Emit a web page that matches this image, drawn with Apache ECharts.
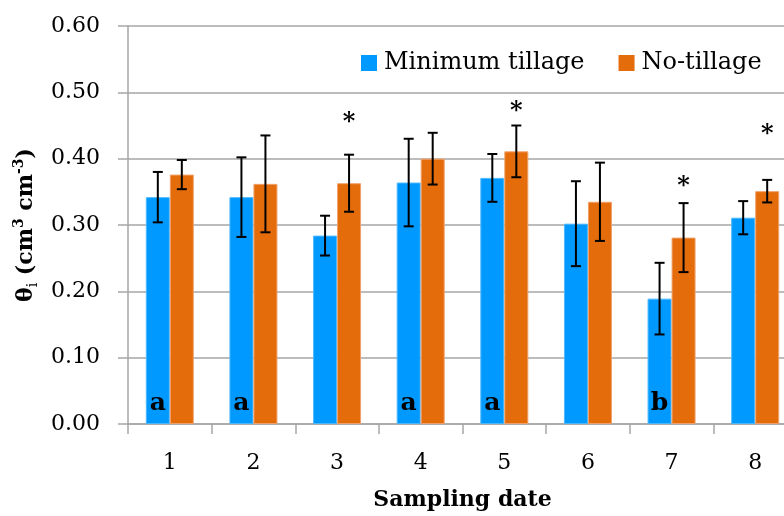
<!DOCTYPE html>
<html>
<head>
<meta charset="utf-8">
<script src="https://cdn.jsdelivr.net/npm/echarts@6/dist/echarts.min.js"></script>
<style>
  html, body { margin: 0; padding: 0; background: #fff; }
  #chart { width: 784px; height: 516px; }
</style>
</head>
<body>
<div id="chart"></div>
<script>
// Sampling dates on the category axis
const dates = ['1', '2', '3', '4', '5', '6', '7', '8'];

// Mean soil water content and its error (± half-range of the bar)
const minTillage   = [0.342, 0.342, 0.284, 0.364, 0.371, 0.302, 0.189, 0.311];
const minTillageSD = [0.038, 0.060, 0.030, 0.066, 0.036, 0.064, 0.054, 0.025];
const noTillage    = [0.376, 0.362, 0.363, 0.400, 0.411, 0.335, 0.281, 0.351];
const noTillageSD  = [0.022, 0.073, 0.043, 0.039, 0.039, 0.059, 0.052, 0.017];

// Significance marks: letters at the foot of the minimum-tillage bars,
// asterisks above the no-tillage bars (value = height of the mark)
const letterMarks   = ['a', 'a', '', 'a', 'a', '', 'b', ''];
const asteriskLevel = [null, null, 0.461, null, 0.478, null, 0.365, 0.443];

// Y axis tick settings
const yMin = 0, yMax = 0.6, yStep = 0.1;

const FONT = 'DejaVu Serif';
const BAR_W = 24;
const BLUE = '#0099FF';
const ORANGE = '#E46C0A';

const chart = echarts.init(document.getElementById('chart'), null, { renderer: 'canvas' });

function errorSeries(name, means, sds, offset) {
  return {
    type: 'custom',
    name: name,
    z: 5,
    data: means.map((m, i) => [i, m - sds[i], m + sds[i]]),
    renderItem: function (params, api) {
      const lo = api.coord([api.value(0), api.value(1)]);
      const hi = api.coord([api.value(0), api.value(2)]);
      const x = hi[0] + offset;
      const cap = 5;
      const style = { stroke: '#000', lineWidth: 2 };
      return {
        type: 'group',
        children: [
          { type: 'line', shape: { x1: x, y1: hi[1], x2: x, y2: lo[1] }, style: style },
          { type: 'line', shape: { x1: x - cap, y1: hi[1], x2: x + cap, y2: hi[1] }, style: style },
          { type: 'line', shape: { x1: x - cap, y1: lo[1], x2: x + cap, y2: lo[1] }, style: style }
        ]
      };
    }
  };
}

const option = {
  backgroundColor: '#fff',
  animation: false,
  textStyle: { fontFamily: FONT, color: '#000' },
  grid: { left: 128, top: 26, width: 669, height: 398, containLabel: false, outerBoundsMode: 'none' },
  legend: {
    data: ['Minimum tillage', 'No-tillage'],
    left: 356,
    top: 46,
    icon: 'rect',
    itemWidth: 16,
    itemHeight: 16,
    itemGap: 34,
    itemStyle: { borderWidth: 0 },
    textStyle: { fontFamily: FONT, fontSize: 24, color: '#000', lineHeight: 24, padding: [0, 0, 0, 2] }
  },
  xAxis: {
    type: 'category',
    data: dates,
    name: 'Sampling date',
    nameLocation: 'middle',
    nameGap: 65,
    nameTextStyle: { fontFamily: FONT, fontSize: 22, fontWeight: 'bold', color: '#000' },
    axisLine: { lineStyle: { color: '#a6a6a6', width: 1.5 } },
    axisTick: { show: true, length: 10, lineStyle: { color: '#a6a6a6', width: 1.5 } },
    axisLabel: { fontFamily: FONT, fontSize: 22, color: '#000', margin: 28 }
  },
  yAxis: {
    type: 'value',
    min: yMin,
    max: yMax,
    interval: yStep,
    name: '{t|θ}{sub|i}{t| (cm}{sup|3}{t| cm}{sup|-3}{t|)}',
    nameLocation: 'middle',
    nameRotate: 90,
    nameGap: 88,
    nameTextStyle: {
      rich: {
        t:   { fontFamily: FONT, fontSize: 22, fontWeight: 'bold', color: '#000', lineHeight: 28 },
        sup: { fontFamily: FONT, fontSize: 14, fontWeight: 'bold', color: '#000', verticalAlign: 'top', lineHeight: 28 },
        sub: { fontFamily: FONT, fontSize: 14, color: '#000', verticalAlign: 'bottom', lineHeight: 22 }
      }
    },
    axisLine: { show: true, lineStyle: { color: '#a6a6a6', width: 1.5 } },
    axisTick: { show: true, length: 10, lineStyle: { color: '#a6a6a6', width: 1.5 } },
    axisLabel: {
      fontFamily: FONT, fontSize: 22, color: '#000', margin: 28,
      formatter: v => v.toFixed(2)
    },
    splitLine: { show: true, lineStyle: { color: '#a6a6a6', width: 1.5 } }
  },
  series: [
    {
      type: 'bar',
      name: 'Minimum tillage',
      data: minTillage,
      barWidth: BAR_W,
      barGap: '0%',
      itemStyle: { color: BLUE, borderColor: '#4cb8ff', borderWidth: 1 },
      label: {
        show: true,
        position: 'insideBottom',
        distance: 8,
        formatter: p => letterMarks[p.dataIndex],
        fontFamily: FONT,
        fontSize: 25,
        fontWeight: 'bold',
        color: '#000'
      }
    },
    {
      type: 'bar',
      name: 'No-tillage',
      data: noTillage,
      barWidth: BAR_W,
      barGap: '0%',
      itemStyle: { color: ORANGE, borderColor: '#f0a06a', borderWidth: 1 }
    },
    errorSeries('Minimum tillage SD', minTillage, minTillageSD, -BAR_W / 2),
    errorSeries('No-tillage SD', noTillage, noTillageSD, BAR_W / 2),
    {
      type: 'custom',
      name: 'Significance',
      z: 6,
      data: asteriskLevel.map((v, i) => [i, v]).filter(d => d[1] !== null),
      renderItem: function (params, api) {
        const p = api.coord([api.value(0), api.value(1)]);
        return {
          type: 'text',
          x: p[0] + BAR_W / 2,
          y: p[1] + 5,
          style: {
            text: '*',
            fontFamily: FONT,
            fontSize: 24,
            fontWeight: 'bold',
            fill: '#000',
            align: 'center',
            verticalAlign: 'middle'
          }
        };
      }
    }
  ]
};

chart.setOption(option);
</script>
</body>
</html>
